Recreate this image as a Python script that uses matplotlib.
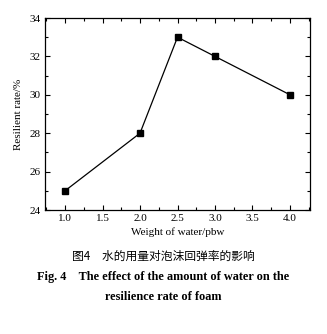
import matplotlib
matplotlib.use('Agg')
import matplotlib.pyplot as plt
from matplotlib.ticker import MultipleLocator

# data
water = [1.0, 2.0, 2.5, 3.0, 4.0]
resilience = [25, 28, 33, 32, 30]

plt.rcParams['font.family'] = ['Liberation Serif', 'Noto Sans CJK SC']

fig = plt.figure(figsize=(3.27, 3.34), dpi=100)
ax = fig.add_axes([45/327, 1-210/334, 265/327, 192/334])

ax.plot(water, resilience, color='black', lw=0.9, marker='s', ms=4.5)

ax.set_xlim(0.733, 4.267)
ax.set_ylim(24, 34)
ax.xaxis.set_major_locator(MultipleLocator(0.5))
ax.xaxis.set_minor_locator(MultipleLocator(0.25))
ax.yaxis.set_major_locator(MultipleLocator(2))
ax.yaxis.set_minor_locator(MultipleLocator(1))
ax.xaxis.set_major_formatter(plt.FormatStrFormatter('%.1f'))
ax.tick_params(which='both', direction='in', top=True, right=True, labelsize=8, width=0.8)
ax.tick_params(which='major', length=3.5, pad=3)
ax.tick_params(which='minor', length=2)
for s in ax.spines.values():
    s.set_linewidth(0.9)

ax.set_xlabel('Weight of water/pbw', fontsize=8, labelpad=3)
ax.set_ylabel('Resilient rate/%', fontsize=8, labelpad=5)

fig.text(0.5, 1-256/334, '图4　水的用量对泡沫回弹率的影响', ha='center', va='center',
         fontsize=8.5, family=['Noto Sans CJK SC'], fontweight='medium')
fig.text(0.5, 1-277/334, 'Fig. 4    The effect of the amount of water on the', ha='center', va='center',
         fontsize=8.8, fontweight='bold')
fig.text(0.5, 1-297/334, 'resilience rate of foam', ha='center', va='center',
         fontsize=8.8, fontweight='bold')

fig.savefig('out.png', dpi=100)
